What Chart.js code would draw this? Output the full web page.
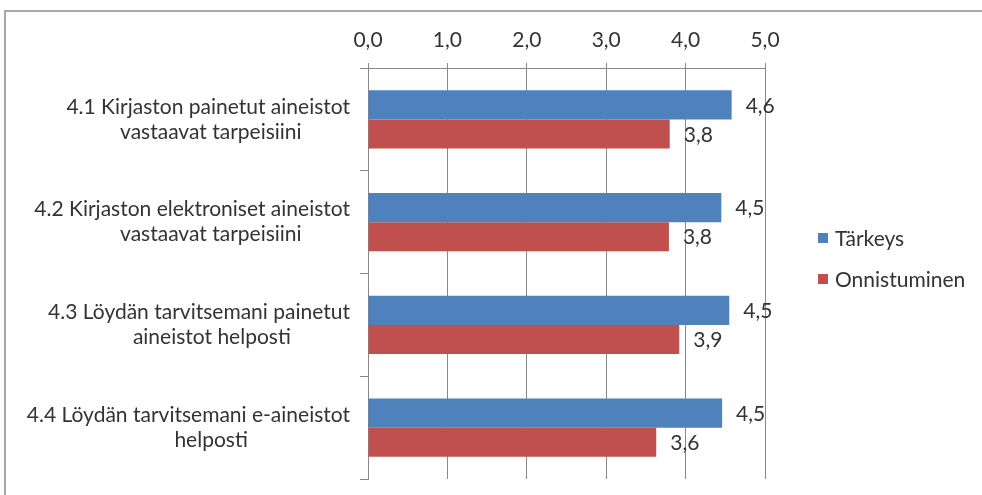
<!DOCTYPE html>
<html><head><meta charset="utf-8">
<script src="https://cdn.jsdelivr.net/npm/chart.js@4"></script>
<style>
html,body{margin:0;padding:0;background:#fff;overflow:hidden;width:982px;height:495px;}
#frame{position:absolute;left:4px;top:10px;width:1000px;height:520px;border-top:2px solid #a8a8a8;border-left:2px solid #a8a8a8;}
canvas{position:absolute;left:0;top:0;}
</style></head><body>
<div id="frame"></div>
<canvas id="c" width="982" height="495"></canvas>
<script>
// ---- data ----
const categories = [
  ["4.1 Kirjaston painetut aineistot", "vastaavat tarpeisiini"],
  ["4.2 Kirjaston elektroniset aineistot", "vastaavat tarpeisiini"],
  ["4.3 Löydän tarvitsemani painetut", "aineistot helposti"],
  ["4.4 Löydän tarvitsemani e-aineistot", "helposti"]
];
const seriesNames = ["Tärkeys", "Onnistuminen"];
const tarkeys = [4.58, 4.45, 4.55, 4.46];
const onnistuminen = [3.80, 3.79, 3.92, 3.63];
const xTickValues = [0, 1, 2, 3, 4, 5];

// ---- styling ----
const FONT = "Lato";
const FS = 21;
const TEXT = "#333333";
const GRID = "#888888";
const COLORS = ["#4F81BD", "#C0504D"];
const fmt = v => Number(v).toFixed(1).replace(".", ",");

// centre each label's lines inside a label box (Excel-like), via trailing spaces
const mctx = document.createElement("canvas").getContext("2d");
mctx.font = FS + "px " + FONT;
const spaceW = mctx.measureText(" ").width;
const BOXW = 280;
const yLabels = categories.map(lines => lines.map(l => {
  const w = mctx.measureText(l).width;
  const pad = Math.max(0, (BOXW - w) / 2);
  return l + " ".repeat(Math.round(pad / spaceW));
}));

const valueLabels = {
  id: "valueLabels",
  afterDatasetsDraw(chart) {
    const ctx = chart.ctx;
    ctx.save();
    ctx.font = FS + "px " + FONT;
    ctx.fillStyle = TEXT;
    ctx.textAlign = "left";
    ctx.textBaseline = "middle";
    chart.data.datasets.forEach((ds, di) => {
      chart.getDatasetMeta(di).data.forEach((el, i) => {
        ctx.fillText(fmt(ds.data[i]), el.x + 14, el.y + 1);
      });
    });
    ctx.restore();
  }
};

const sideLegend = {
  id: "sideLegend",
  afterDraw(chart) {
    const ctx = chart.ctx, ca = chart.chartArea;
    ctx.save();
    ctx.font = FS + "px " + FONT;
    ctx.textAlign = "left";
    ctx.textBaseline = "middle";
    chart.data.datasets.forEach((ds, i) => {
      const y = ca.top + 170 + i * 41;
      const x = ca.right + 53;
      ctx.fillStyle = ds.backgroundColor;
      ctx.fillRect(x, y - 5, 10, 10);
      ctx.fillStyle = TEXT;
      ctx.fillText(ds.label, x + 17, y + 1);
    });
    ctx.restore();
  }
};

const PAD = { left: 20, right: 217, top: 10, bottom: 16 };

new Chart(document.getElementById("c"), {
  type: "bar",
  data: {
    labels: yLabels,
    datasets: [
      { label: seriesNames[0], data: tarkeys, backgroundColor: COLORS[0] },
      { label: seriesNames[1], data: onnistuminen, backgroundColor: COLORS[1] }
    ]
  },
  options: {
    indexAxis: "y",
    responsive: false,
    animation: false,
    devicePixelRatio: 1,
    layout: { padding: PAD },
    datasets: { bar: { barPercentage: 1, categoryPercentage: 0.565 } },
    plugins: { legend: { display: false }, tooltip: { enabled: false } },
    scales: {
      x: {
        position: "top",
        min: xTickValues[0],
        max: xTickValues[xTickValues.length - 1],
        afterBuildTicks: s => { s.ticks = xTickValues.map(v => ({ value: v })); },
        afterFit: s => {
          s.height = 68 - PAD.top;
          s.paddingLeft = 0; s.paddingRight = 0;
        },
        ticks: {
          callback: v => fmt(v),
          font: { family: FONT, size: FS },
          color: TEXT,
          padding: 10,
          maxRotation: 0
        },
        grid: { color: GRID, lineWidth: 1, tickLength: 5, drawTicks: true },
        border: { color: GRID, width: 1 }
      },
      y: {
        afterFit: s => {
          s.width = 368 - PAD.left;
          s.paddingTop = 0; s.paddingBottom = 0;
        },
        ticks: {
          crossAlign: "near",
          font: { family: FONT, size: FS, lineHeight: 1.2 },
          color: TEXT,
          padding: 10,
          autoSkip: false
        },
        grid: { offset: true, drawOnChartArea: false, color: GRID, tickLength: 8 },
        border: { color: GRID, width: 1 }
      }
    }
  },
  plugins: [valueLabels, sideLegend]
});
</script>
</body></html>
